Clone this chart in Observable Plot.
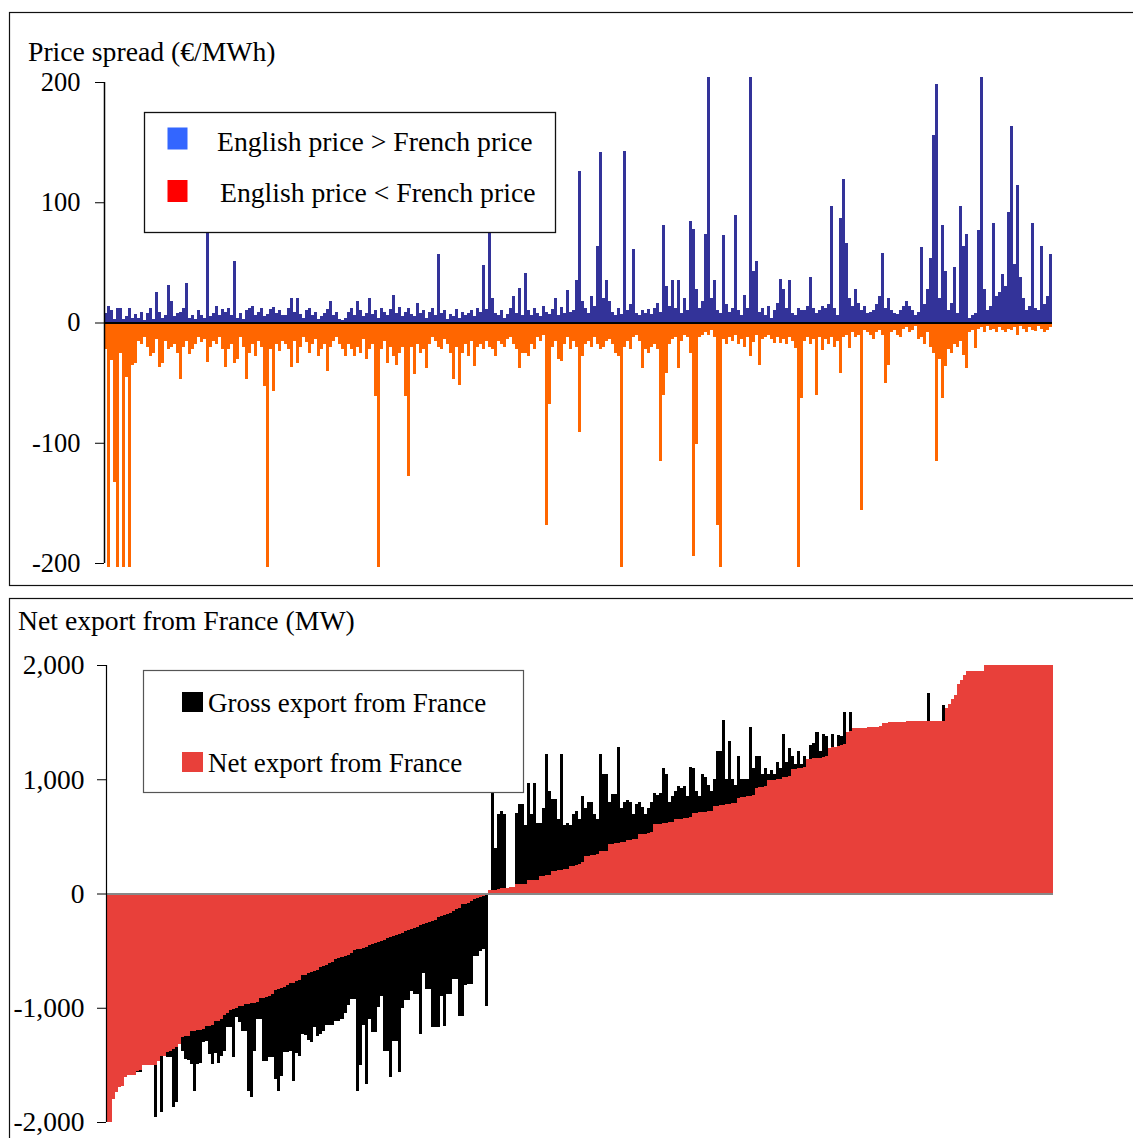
<!DOCTYPE html>
<html>
<head>
<meta charset="utf-8">
<script src="https://cdn.jsdelivr.net/npm/d3@7"></script>
<script src="https://cdn.jsdelivr.net/npm/@observablehq/plot@0.6"></script>
<style>
  html, body { margin: 0; padding: 0; background: #fff; overflow: hidden; }
  #page { position: relative; width: 1133px; height: 1138px; font-family: "Liberation Serif", "Times New Roman", serif; }
  .layer { position: absolute; left: 0; }
  svg text { font-family: "Liberation Serif", "Times New Roman", serif; }
</style>
</head>
<body>
<div id="page">
  <svg class="layer" style="top:0" width="1133" height="1138">
    <rect x="9.5" y="12.5" width="1130" height="573" fill="none" stroke="#111" stroke-width="1.2"/>
    <rect x="9.5" y="598.5" width="1130" height="600" fill="none" stroke="#111" stroke-width="1.2"/>
  </svg>
  <div id="top" class="layer" style="top:0"></div>
  <div id="bottom" class="layer" style="top:598px"></div>
  <svg class="layer" style="top:0" width="1133" height="1138" font-size="27.7">
    <text x="28" y="61" fill="#000">Price spread (€/MWh)</text>
    <rect x="144.5" y="112.5" width="411" height="120" fill="#fff" stroke="#111" stroke-width="1.3"/>
    <rect x="167.5" y="127.5" width="20" height="22" fill="#3366FF"/>
    <rect x="167.5" y="180" width="20" height="22" fill="#FF0000"/>
    <text x="217" y="151" fill="#000">English price &gt; French price</text>
    <text x="220" y="202" fill="#000">English price &lt; French price</text>
    <text x="18" y="630" fill="#000">Net export from France (MW)</text>
    <rect x="143.5" y="670.5" width="380" height="122" fill="#fff" stroke="#555" stroke-width="1.2"/>
    <rect x="182" y="692" width="21" height="20" fill="#000"/>
    <rect x="182" y="752" width="21" height="20" fill="#E8403A"/>
    <text x="208" y="712" fill="#000" font-size="27">Gross export from France</text>
    <text x="208" y="772" fill="#000" font-size="27">Net export from France</text>
  </svg>
</div>
<script>
// ---- Top panel: daily price spread (€/MWh) ----
const spreadPositive = [
  8,14,10,3,12,12,3,5,12,4,7,4,9,2,8,12,3,25,9,4,
  6,31,18,5,8,9,12,33,4,6,3,10,6,4,80,5,8,14,6,11,
  9,12,6,51,4,8,3,10,12,14,6,9,12,5,7,11,13,8,10,6,
  6,12,20,9,20,7,4,10,12,6,9,3,5,8,11,18,6,9,3,2,
  4,9,12,6,18,10,5,8,20,7,10,4,12,9,6,11,23,8,13,5,
  9,12,7,5,16,8,10,4,9,12,6,57,8,10,3,7,5,11,4,9,
  6,8,10,5,12,9,48,11,78,20,8,6,10,4,7,12,22,8,29,6,
  41,10,6,12,8,5,14,9,7,11,20,6,13,8,27,9,10,35,126,18,
  12,8,22,14,64,142,20,35,18,9,6,12,7,143,10,15,61,8,6,10,
  8,11,7,12,16,9,81,30,14,35,12,35,8,20,10,84,78,28,12,18,
  74,204,20,35,10,8,73,15,9,12,89,10,6,23,12,204,43,51,9,12,
  6,14,4,10,16,36,28,12,35,8,6,12,10,10,14,38,12,8,10,14,
  12,15,97,12,6,87,119,66,20,14,28,16,10,14,8,9,10,15,22,58,
  12,20,10,8,7,10,14,18,14,10,6,9,63,15,28,54,156,198,20,81,
  43,10,16,46,8,97,64,74,4,6,8,77,204,28,10,14,83,22,25,40,
  30,92,163,49,114,38,20,10,14,83,12,10,64,15,22,57
];
const spreadNegative = [
  -22,-203,-31,-133,-203,-25,-203,-45,-203,-35,-34,-15,-18,-12,-20,-28,-25,-14,-37,-34,
  -15,-22,-20,-18,-25,-47,-20,-15,-26,-22,-18,-12,-16,-14,-33,-20,-15,-18,-12,-22,
  -37,-22,-18,-34,-30,-12,-20,-47,-25,-18,-28,-15,-20,-53,-203,-22,-57,-18,-24,-15,
  -18,-22,-37,-15,-34,-20,-12,-16,-25,-18,-14,-28,-22,-18,-40,-20,-15,-12,-18,-22,
  -28,-18,-22,-28,-20,-25,-14,-30,-22,-18,-61,-203,-22,-15,-34,-20,-28,-35,-25,-20,
  -61,-128,-20,-43,-18,-25,-22,-38,-18,-12,-15,-20,-22,-14,-18,-25,-47,-20,-52,-25,
  -18,-28,-15,-36,-20,-18,-22,-15,-20,-22,-28,-15,-18,-20,-14,-12,-18,-22,-38,-25,
  -25,-28,-18,-22,-12,-15,-10,-168,-68,-20,-15,-30,-32,-18,-12,-22,-15,-20,-91,-28,
  -18,-15,-20,-12,-18,-22,-20,-15,-14,-18,-25,-28,-203,-20,-15,-22,-12,-10,-15,-38,
  -22,-25,-20,-18,-22,-115,-60,-42,-18,-14,-12,-38,-15,-10,-12,-25,-194,-101,-12,-10,
  -8,-10,-6,-12,-168,-203,-14,-18,-12,-15,-10,-18,-14,-20,-12,-28,-16,-10,-35,-14,
  -12,-10,-14,-17,-12,-17,-14,-18,-12,-15,-21,-203,-63,-15,-12,-18,-14,-60,-12,-23,
  -14,-18,-12,-20,-15,-42,-12,-10,-21,-8,-12,-10,-156,-6,-8,-10,-14,-8,-6,-10,
  -50,-35,-8,-6,-10,-12,-5,-4,-8,-6,-3,-14,-12,-18,-8,-20,-25,-115,-30,-63,
  -36,-22,-25,-18,-20,-15,-27,-38,-8,-6,-21,-5,-4,-8,-3,-6,-5,-8,-4,-6,
  -8,-5,-6,-4,-10,-3,-5,-8,-4,-6,-7,-3,-5,-8,-6,-4
];
const spreadTicks = [-200, -100, 0, 100, 200];

// ---- Bottom panel: net and gross export from France (MW), sorted by net ----
const netExport = [
  -2000,-2000,-1798,-1740,-1690,-1685,-1610,-1590,-1588,-1585,-1550,-1545,-1503,-1503,-1502,
  -1501,-1500,-1470,-1422,-1418,-1390,-1375,-1360,-1340,-1318,-1259,-1250,-1245,-1205,-1200,
  -1198,-1195,-1190,-1162,-1160,-1150,-1118,-1112,-1100,-1066,-1050,-1017,-1010,-1000,-988,
  -985,-965,-963,-960,-958,-950,-916,-912,-905,-895,-880,-844,-835,-825,-815,
  -800,-786,-780,-770,-755,-714,-710,-700,-690,-680,-670,-642,-635,-625,-610,
  -600,-569,-565,-555,-545,-535,-525,-497,-490,-482,-475,-465,-455,-439,-432,
  -425,-415,-405,-387,-380,-372,-365,-355,-345,-324,-318,-310,-300,-290,-275,
  -266,-260,-250,-240,-228,-202,-198,-190,-180,-170,-150,-140,-130,-92,-88,
  -80,-70,-50,-40,-35,-25,-12,30,35,35,38,50,50,52,55,
  60,79,80,82,85,114,115,118,120,152,155,160,165,200,200,
  205,210,212,215,240,245,250,260,275,327,330,335,340,345,370,
  372,375,430,435,440,445,450,455,467,470,475,480,517,520,525,
  530,540,604,606,610,615,620,625,630,648,652,656,660,665,670,
  706,708,710,712,715,718,722,765,768,772,776,780,785,790,795,
  838,842,846,850,855,860,925,930,935,945,990,992,995,998,1000,
  1019,1022,1025,1086,1090,1095,1100,1105,1174,1178,1182,1186,1190,1195,1200,
  1276,1280,1285,1290,1300,1310,1416,1420,1445,1446,1448,1450,1452,1454,1456,
  1458,1460,1462,1495,1496,1497,1498,1500,1500,1500,1500,1510,1510,1510,1510,
  1510,1510,1510,1510,1510,1510,1510,1510,1510,1620,1660,1700,1740,1830,1870,
  1910,1947,1947,1948,1950,1950,1950,2000,2000,2000,2000,2000,2000,2000,2000,
  2000,2000,2000,2000,2000,2000,2000,2000,2000,2000,2000,2000,2000,2000,2000
];
const grossExport = [
  -2000,-2000,-1798,-1740,-1690,-1685,-1610,-1590,-1588,-1585,-1565,-1560,-1503,-1503,-1502,
  -1501,-1959,-1470,-1915,-1418,-1434,-1434,-1872,-1828,-1318,-1376,-1450,-1460,-1493,-1726,
  -1493,-1480,-1300,-1290,-1405,-1490,-1400,-1480,-1420,-1376,-1172,-1172,-1434,-1085,-1128,
  -1201,-1201,-1726,-1784,-1376,-1099,-1099,-1463,-1463,-1434,-1434,-1624,-1726,-1595,-1390,
  -1390,-1380,-1638,-1400,-1420,-1230,-1240,-1280,-1300,-1170,-1250,-1230,-1201,-1155,-1150,
  -1155,-1114,-1114,-1100,-1050,-980,-924,-924,-1726,-1500,-1150,-1668,-1100,-1216,-1216,
  -997,-900,-1376,-1376,-1609,-1289,-1289,-1566,-1000,-930,-930,-850,-880,-880,-1230,
  -700,-840,-840,-1172,-1172,-1172,-900,-1157,-880,-880,-750,-750,-1070,-1070,-800,
  -793,-793,-550,-550,-500,-487,-982,30,880,400,700,720,700,52,55,
  60,706,780,780,600,970,700,970,620,620,750,1217,900,823,823,
  650,1217,600,620,600,700,721,650,853,750,800,800,700,650,1217,
  1050,1050,800,870,870,1282,750,800,820,800,700,780,800,760,700,
  750,800,880,860,880,1100,1050,800,850,900,940,920,940,850,1110,
  1100,900,850,1050,1020,950,900,1000,1247,1247,1515,1000,1334,1000,950,
  1203,1000,1000,1000,1457,1100,1200,1200,1050,1100,1050,1080,1050,1150,1100,
  1400,1150,1276,1200,1130,1250,1130,1200,1174,1300,1320,1416,1250,1400,1380,
  1276,1400,1285,1390,1380,1588,1416,1588,1445,1446,1448,1450,1452,1454,1456,
  1458,1460,1462,1495,1496,1497,1498,1500,1500,1500,1500,1510,1510,1510,1510,
  1510,1510,1510,1752,1510,1510,1510,1510,1650,1620,1660,1700,1740,1830,1870,
  1910,1947,1947,1948,1950,1950,1950,2000,2000,2000,2000,2000,2000,2000,2000,
  2000,2000,2000,2000,2000,2000,2000,2000,2000,2000,2000,2000,2000,2000,2000
];
const exportTicks = [-2000, -1000, 0, 1000, 2000];

const FONT = '"Liberation Serif", "Times New Roman", serif';
const styleFor = size => ({background: "transparent", overflow: "visible", maxWidth: "none", fontFamily: FONT, fontSize: size, color: "#000"});

const topChart = Plot.plot({
  width: 1133, height: 590,
  marginLeft: 104, marginRight: 81, marginTop: 82, marginBottom: 27,
  style: styleFor("26.5px"),
  x: {domain: [0, spreadPositive.length], axis: null},
  y: {domain: [-200, 200], ticks: spreadTicks, tickSize: 9, tickPadding: 15, tickFormat: d => String(d), label: null},
  marks: [
    Plot.rect(spreadNegative, {x1: (d, i) => i, x2: (d, i) => i + 1, y1: () => 0, y2: d => d, fill: "#FF6600", shapeRendering: "crispEdges"}),
    Plot.rect(spreadPositive, {x1: (d, i) => i, x2: (d, i) => i + 1, y1: () => 0, y2: d => d, fill: "#333399", shapeRendering: "crispEdges"}),
    Plot.ruleY([0], {stroke: "#000", strokeWidth: 2}),
    Plot.ruleX([0], {y1: -200, y2: 200, stroke: "#000", strokeWidth: 1.5})
  ]
});
document.getElementById("top").appendChild(topChart);

const fmtMW = d => (d < 0 ? "-" : "") + d3.format(",")(Math.abs(d));
const bottomChart = Plot.plot({
  width: 1133, height: 540,
  marginLeft: 106, marginRight: 80, marginTop: 67, marginBottom: 16,
  style: styleFor("27.5px"),
  x: {domain: [0, netExport.length], axis: null},
  y: {domain: [-2000, 2000], ticks: exportTicks, tickSize: 9, tickPadding: 13, tickFormat: fmtMW, label: null},
  marks: [
    Plot.rect(grossExport, {x1: (d, i) => i, x2: (d, i) => i + 1, y1: () => 0, y2: d => d, fill: "#000", shapeRendering: "crispEdges"}),
    Plot.rect(netExport, {x1: (d, i) => i, x2: (d, i) => i + 1, y1: () => 0, y2: d => d, fill: "#E8403A", shapeRendering: "crispEdges"}),
    Plot.ruleY([0], {stroke: "#888", strokeWidth: 2}),
    Plot.ruleX([0], {y1: -2000, y2: 2000, stroke: "#000", strokeWidth: 1.2})
  ]
});
document.getElementById("bottom").appendChild(bottomChart);
</script>
</body>
</html>
